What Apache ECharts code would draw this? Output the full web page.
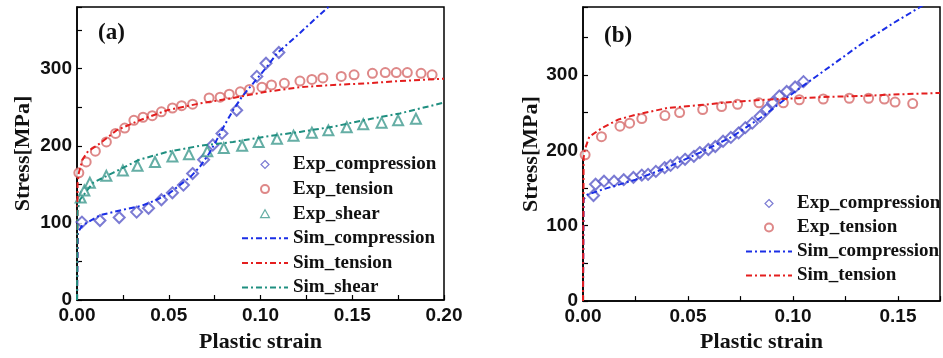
<!DOCTYPE html>
<html><head><meta charset="utf-8">
<script src="https://cdn.jsdelivr.net/npm/echarts@6/dist/echarts.min.js"></script>
<style>html,body{margin:0;padding:0;background:#fff}#c{width:943px;height:358px}</style>
</head><body><div id="c"></div>
<script>
// ---- Panel (a) data: [plastic strain, stress MPa]
const a_expCompression = [[0.0027,101],[0.0125,103],[0.023,107],[0.0325,114],[0.039,119],[0.046,130],[0.052,139],[0.058,149],[0.063,164],[0.069,182],[0.074,201],[0.079,216],[0.087,246],[0.098,290],[0.103,307],[0.11,321]];
const a_expTension = [[0.001,165],[0.005,179],[0.010,193],[0.016,205],[0.021,216],[0.026,223],[0.031,233],[0.036,237],[0.041,239],[0.046,244],[0.052,249],[0.057,252],[0.063,254],[0.072,262],[0.078,263],[0.083,267],[0.089,270],[0.094,273],[0.1008,276],[0.106,279],[0.113,281],[0.1215,284],[0.128,286],[0.134,288],[0.144,290],[0.151,292],[0.161,294],[0.168,295],[0.174,295],[0.18,295],[0.1875,294],[0.1935,292]];
const a_expShear = [[0.002,133],[0.004,142],[0.007,152],[0.016,161],[0.025,168],[0.033,174],[0.0425,179],[0.052,186],[0.061,189],[0.071,193],[0.080,197],[0.090,200],[0.099,205],[0.109,209],[0.118,213],[0.128,217],[0.137,220],[0.147,224],[0.156,228],[0.166,230],[0.175,233],[0.1847,235]];
const a_simCompression = [[0,0],[0.0005,88],[0.003,97],[0.0125,110],[0.025,117],[0.035,122],[0.0435,130],[0.05,138],[0.056,149],[0.062,160],[0.067,173],[0.072,190],[0.076,207],[0.08,225],[0.085,246],[0.09,264],[0.096,281],[0.103,301],[0.109,320],[0.12,343],[0.13,365],[0.137,380],[0.145,398]];
const a_simTension = [[0,0],[0.0003,150],[0.001,165],[0.003,182],[0.006,193],[0.0125,203],[0.0215,220],[0.034,233],[0.049,246],[0.067,255],[0.085,262],[0.103,270],[0.1215,276],[0.14,279],[0.158,281],[0.176,284],[0.2,287]];
const a_simShear = [[0,0],[0.0003,115],[0.0016,130],[0.0087,152],[0.0196,165],[0.034,182],[0.049,192],[0.067,200],[0.085,205],[0.103,212],[0.1215,218],[0.14,225],[0.158,234],[0.176,242],[0.2,256]];

// ---- Panel (b) data
const b_expCompression = [[0.005,140],[0.006,155],[0.010,159],[0.0148,159],[0.0194,161],[0.024,164],[0.028,167],[0.031,168],[0.0347,172],[0.0389,177],[0.0417,180],[0.045,184],[0.0486,188],[0.0528,192],[0.0556,197],[0.0597,201],[0.063,205],[0.0667,212],[0.0704,217],[0.0741,223],[0.0773,230],[0.0806,236],[0.0843,245],[0.0875,254],[0.0903,263],[0.0935,272],[0.097,278],[0.101,284],[0.105,291]];
const b_expTension = [[0.001,194],[0.0088,218],[0.0176,232],[0.0222,236],[0.028,242],[0.039,246],[0.046,250],[0.057,254],[0.066,258],[0.0736,261],[0.0838,263],[0.0954,263],[0.103,267],[0.1144,268],[0.1268,269],[0.136,269],[0.1435,268],[0.1486,264],[0.157,262]];
const b_simCompression = [[0,0],[0.0003,135],[0.002,141],[0.0093,148],[0.025,161],[0.04,177],[0.0557,197],[0.071,218],[0.0866,247],[0.102,280],[0.1176,311],[0.133,342],[0.148,369],[0.1606,390],[0.17,406]];
const b_simTension = [[0,0],[0.0003,190],[0.001,202],[0.003,218],[0.0093,230],[0.017,241],[0.025,247],[0.04,256],[0.0557,260],[0.071,264],[0.0866,267],[0.102,269],[0.1176,271],[0.133,272],[0.148,274],[0.17,276]];

const panelLabels = ['(a)','(b)'];
const xName = 'Plastic strain', yName = 'Stress[MPa]';
const legendA = ['Exp_compression','Exp_tension','Exp_shear','Sim_compression','Sim_tension','Sim_shear'];
const legendB = ['Exp_compression ','Exp_tension ','Sim_compression ','Sim_tension '];

const C = {dia:'#5a5ac8', cir:'#d66a6a', tri:'#3f9a8e', sComp:'#1a2ee6', sTen:'#e41e1e', sShear:'#1f8f80'};
const dashDot = [6,3,2,3];
const serif = 'Liberation Serif', sans = 'Liberation Sans';
const ICON = {
  emptyDiamond:'path://M5,0L10,5L5,10L0,5Z',
  emptyTriangle:'path://M5,0L10,9L0,9Z'
};

function xAxis(gi, max, gap){
  return {type:'value', gridIndex:gi, min:0, max:max, interval:0.025,
    name:xName, nameLocation:'middle', nameGap:gap,
    nameTextStyle:{fontFamily:serif, fontWeight:'bold', fontSize:22, color:'#111'},
    axisLine:{show:true, lineStyle:{color:'#000', width:1.5}},
    axisTick:{show:true, inside:true, length:5, lineStyle:{color:'#000', width:1.2}},
    axisLabel:{margin:6, fontFamily:sans, fontWeight:'bold', fontSize:19, color:'#111',
      formatter:v=>{const k=Math.round(v*1000); return (k%50===0)? (k/1000).toFixed(2):'';}},
    splitLine:{show:false}};
}
function yAxis(gi, max, gap){
  return {type:'value', gridIndex:gi, min:0, max:max, interval:50,
    name:yName, nameLocation:'middle', nameGap:gap,
    nameTextStyle:{fontFamily:serif, fontWeight:'bold', fontSize:22, color:'#111'},
    axisLine:{show:true, lineStyle:{color:'#000', width:1.5}},
    axisTick:{show:true, inside:true, length:5, lineStyle:{color:'#000', width:1.2}},
    axisLabel:{margin:5, fontFamily:sans, fontWeight:'bold', fontSize:19, color:'#111',
      formatter:v=>(v%100===0)? String(v):''},
    splitLine:{show:false}};
}
function scat(name, data, sym, col, gi, size){
  return {name, type:'scatter', xAxisIndex:gi, yAxisIndex:gi, data, symbol:sym, symbolSize:size,
    itemStyle:{color:col, borderColor:col, borderWidth:1.2}, z:2};
}
function line(name, data, col, gi){
  return {name, type:'line', xAxisIndex:gi, yAxisIndex:gi, data, symbol:'none', showSymbol:false,
    clip:true, lineStyle:{color:col, width:2, type:dashDot}, itemStyle:{color:col}, z:3};
}
function legLine(name){
  return {name, itemStyle:{opacity:0, color:'rgba(0,0,0,0)', borderColor:'rgba(0,0,0,0)', borderWidth:0}};
}
function legMark(name, sym, col){
  if (ICON[sym]) return {name, icon:ICON[sym], itemStyle:{color:'#fff', borderColor:col, borderWidth:1.2}};
  return {name};
}

const chart = echarts.init(document.getElementById('c'), null, {renderer:'canvas'});
chart.setOption({
  animation:false,
  grid:[
    {left:77, top:7, width:367, height:293, show:true, borderColor:'#000', borderWidth:1.5, backgroundColor:'transparent'},
    {left:583, top:7, width:367, height:295, show:true, borderColor:'#000', borderWidth:1.5, backgroundColor:'transparent'}
  ],
  xAxis:[xAxis(0,0.2,31), xAxis(1,0.17,29)],
  yAxis:[yAxis(0,380,43), yAxis(1,390,39)],
  legend:[
    {data:[legMark(legendA[0],'emptyDiamond',C.dia), legMark(legendA[1],'emptyCircle',C.cir), legMark(legendA[2],'emptyTriangle',C.tri),
           legLine(legendA[3]), legLine(legendA[4]), legLine(legendA[5])],
     orient:'vertical', left:241, top:155, padding:0, symbolKeepAspect:true,
     itemWidth:46, itemHeight:8, itemGap:5.6,
     textStyle:{fontFamily:serif, fontWeight:'bold', fontSize:19, lineHeight:19, color:'#111'}},
    {data:[legMark(legendB[0],'emptyDiamond',C.dia), legMark(legendB[1],'emptyCircle',C.cir),
           legLine(legendB[2]), legLine(legendB[3])],
     orient:'vertical', left:745, top:194, padding:0, symbolKeepAspect:true,
     itemWidth:46, itemHeight:8, itemGap:5,
     textStyle:{fontFamily:serif, fontWeight:'bold', fontSize:19, lineHeight:19, color:'#111'}}
  ],
  graphic:[
    {type:'text', left:98, top:22, style:{text:panelLabels[0], font:'bold 23px "Liberation Serif"', fill:'#111'}},
    {type:'text', left:604, top:25, style:{text:panelLabels[1], font:'bold 23px "Liberation Serif"', fill:'#111'}}
  ],
  series:[
    scat(legendA[0], a_expCompression, 'emptyDiamond', C.dia, 0, 11),
    scat(legendA[1], a_expTension, 'emptyCircle', C.cir, 0, 9),
    scat(legendA[2], a_expShear, 'emptyTriangle', C.tri, 0, 10),
    line(legendA[3], a_simCompression, C.sComp, 0),
    line(legendA[4], a_simTension, C.sTen, 0),
    line(legendA[5], a_simShear, C.sShear, 0),
    scat(legendB[0], b_expCompression, 'emptyDiamond', C.dia, 1, 11),
    scat(legendB[1], b_expTension, 'emptyCircle', C.cir, 1, 9),
    line(legendB[2], b_simCompression, C.sComp, 1),
    line(legendB[3], b_simTension, C.sTen, 1)
  ]
});
</script></body></html>
